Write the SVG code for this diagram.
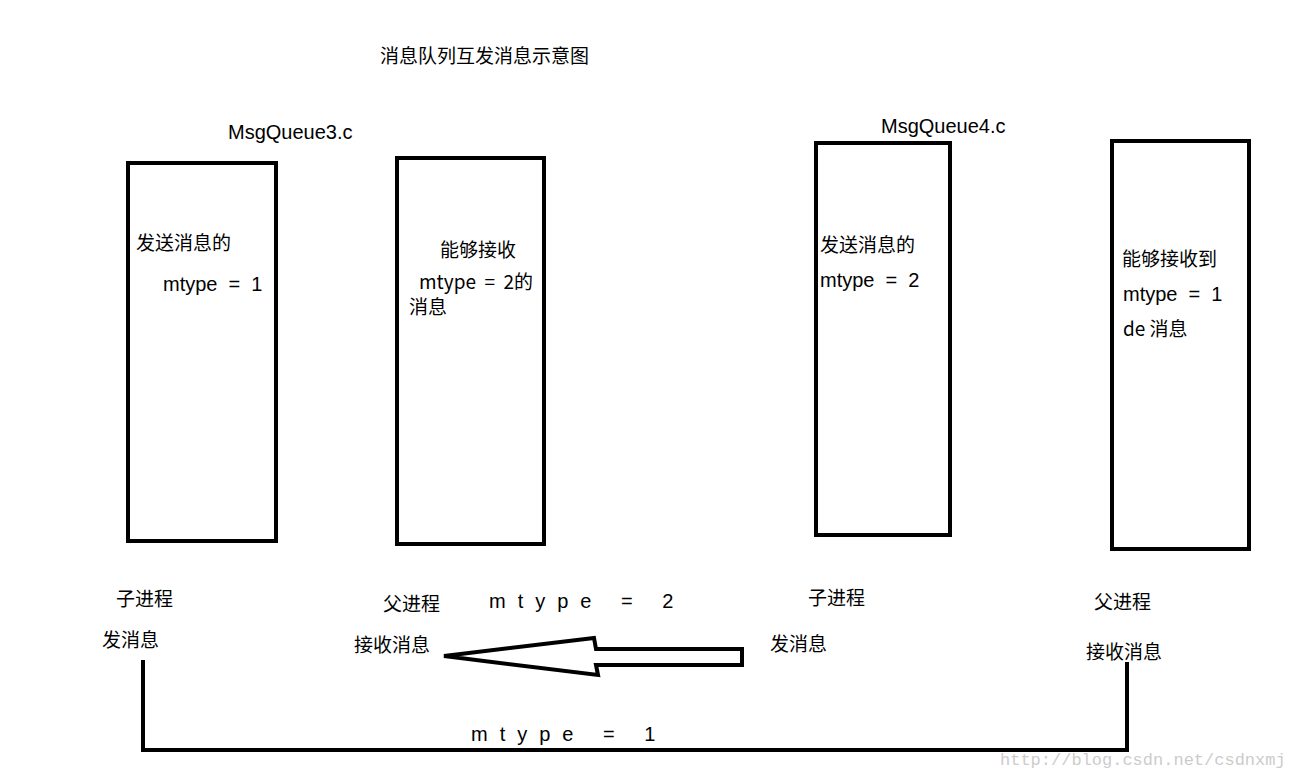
<svg xmlns="http://www.w3.org/2000/svg" width="1293" height="777" viewBox="0 0 1293 777">
<style>
text{font-family:"Noto Sans CJK SC","Liberation Sans",sans-serif;font-size:19px;fill:#000;white-space:pre}
.en{font-family:"Liberation Sans",sans-serif;font-size:20px}
.box{fill:#fff;stroke:#000;stroke-width:4}
.sp{letter-spacing:12px;font-family:"Liberation Sans",sans-serif;font-size:20px}
</style>
<rect width="1293" height="777" fill="#fff"/>
<text x="380" y="63">消息队列互发消息示意图</text>
<text class="en" x="228" y="139" font-size="20">MsgQueue3.c</text>
<text class="en" x="881" y="133" font-size="20">MsgQueue4.c</text>
<g id="n1"><rect class="box" x="128" y="163" width="148" height="378"/>
<text x="136" y="250">发送消息的</text><text class="en" x="163" y="291">mtype  =  1</text></g>
<g id="n2"><rect class="box" x="397" y="158" width="147" height="386"/>
<text x="440" y="257">能够接收</text><text x="419" y="289" xml:space="preserve">mtype  =  2的</text><text x="409" y="314">消息</text></g>
<g id="n3"><rect class="box" x="816" y="143" width="134" height="392"/>
<text x="820" y="252">发送消息的</text><text class="en" x="820" y="287">mtype  =  2</text></g>
<g id="n4"><rect class="box" x="1112" y="141" width="137" height="408"/>
<text x="1122" y="266">能够接收到</text><text class="en" x="1123" y="301">mtype  =  1</text><text x="1123" y="336">de 消息</text></g>
<text x="116" y="606">子进程</text><text x="102" y="647">发消息</text>
<text x="383" y="611">父进程</text><text x="354" y="652">接收消息</text>
<text x="808" y="605">子进程</text><text x="770" y="651">发消息</text>
<text x="1094" y="609">父进程</text><text x="1086" y="659">接收消息</text>
<text class="sp" x="489" y="608">mtype = 2</text>
<text class="sp" x="471" y="741">mtype = 1</text>
<g id="connectors" fill="none" stroke="#000" stroke-width="4">
<polygon points="444,656 594,638 596,649 742,649 742,665 596,665 598,675"/>
<polyline points="143,660 143,750 1127,750 1127,662"/>
</g>
<text x="1000" y="765" style="fill:#ccc;font-family:'Liberation Mono',monospace;font-size:17px">http://blog.csdn.net/csdnxmj</text>
</svg>
